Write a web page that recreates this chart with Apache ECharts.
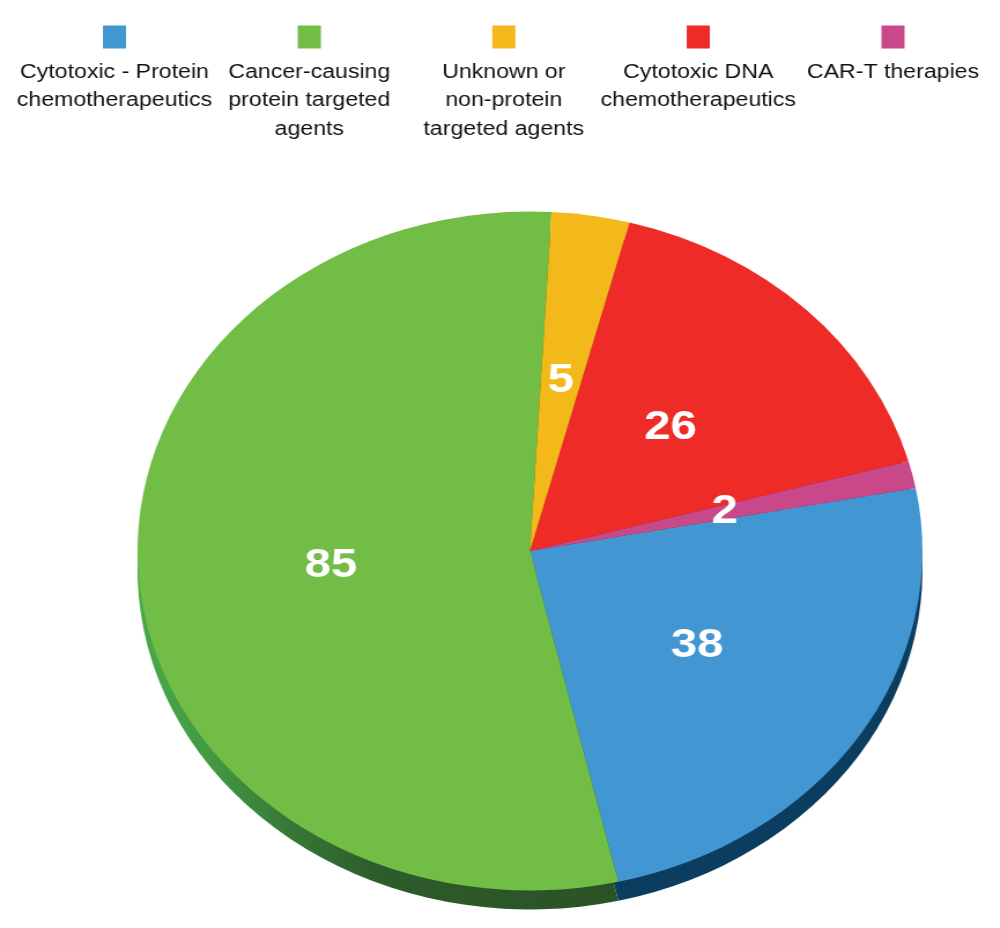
<!DOCTYPE html>
<html><head><meta charset="utf-8">
<script src="https://cdn.jsdelivr.net/npm/echarts@6/dist/echarts.min.js"></script>
<style>
html,body{margin:0;padding:0;background:#fff;overflow:hidden;}
#wrap{width:1000px;height:928px;overflow:hidden;}
#chart{width:865px;height:928px;transform:scaleX(1.156);transform-origin:0 0;}
</style></head><body>
<div id="wrap"><div id="chart"></div></div>
<script>
// ---- data ----
const categories = [
  'Cytotoxic - Protein\nchemotherapeutics',
  'Cancer-causing\nprotein targeted\nagents',
  'Unknown or\nnon-protein\ntargeted agents',
  'Cytotoxic DNA\nchemotherapeutics',
  'CAR-T therapies'
];
const values = [38, 85, 5, 26, 2];

// ---- styles ----
const colors = ['#4297d2', '#71bd45', '#f3b81a', '#ee2b27', '#c8488a'];
const greenSide = {
  type: 'linear', x: 0, y: 0, x2: 1, y2: 0,
  colorStops: [
    { offset: 0, color: '#4aa94a' },
    { offset: 0.15, color: '#429a43' },
    { offset: 0.3, color: '#387a37' },
    { offset: 0.5, color: '#2e5c2b' },
    { offset: 1, color: '#2b5226' }
  ]
};
const sideColors = ['#0b3d60', greenSide, '#9a7a10', '#8a1a18', '#7a2a55'];

const SX = 1.156;
const FONT = '"Liberation Sans", Arial, Helvetica, sans-serif';
const legendCenters = [113.7, 308.5, 503, 697.5, 892.2]; // page px
const LW = 172;
const CX = 530 / SX, CY = 551, R = 339.5, DEPTH = 19;

const chart = echarts.init(document.getElementById('chart'), null, { renderer: 'canvas' });

const legends = categories.map((name, i) => {
  const rich = {
    t: { fontSize: 20, lineHeight: 28.5, fontFamily: FONT, color: '#111111', align: 'center' }
  };
  rich['sq' + i] = { width: 20, height: 23, lineHeight: 42, backgroundColor: colors[i], align: 'center' };
  return {
    data: [name],
    left: (legendCenters[i] - 5) / SX - LW / 2,
    top: 25.5,
    padding: 0,
    icon: 'none',
    itemWidth: 0,
    itemHeight: 0,
    itemGap: 0,
    selectedMode: false,
    formatter: n => '{sq' + i + '|}\n' + n.split('\n').map(l => '{t|' + l + '}').join('\n'),
    textStyle: { width: LW, rich: rich }
  };
});

const option = {
  backgroundColor: '#ffffff',
  animation: false,
  legend: legends,
  series: [
    {
      type: 'pie', name: 'top', z: 3,
      center: [CX, CY], radius: R,
      startAngle: 10.7, clockwise: true,
      avoidLabelOverlap: false,
      label: {
        show: true, position: 'inside', formatter: '{c}',
        color: '#ffffff', fontSize: 41, fontWeight: 'bold', fontFamily: FONT
      },
      labelLine: { show: false },
      emphasis: { disabled: true },
      itemStyle: { borderWidth: 0 },
      data: categories.map((n, i) => ({ name: n, value: values[i], itemStyle: { color: colors[i] } }))
    },
    {
      type: 'pie', name: 'side', z: 2, silent: true,
      center: [CX, CY + DEPTH], radius: R,
      startAngle: 10.7, clockwise: true,
      label: { show: false }, labelLine: { show: false },
      emphasis: { disabled: true },
      itemStyle: { borderWidth: 0 },
      data: categories.map((n, i) => ({ name: n, value: values[i], itemStyle: { color: sideColors[i] } }))
    }
  ]
};
chart.setOption(option);
</script>
</body></html>
